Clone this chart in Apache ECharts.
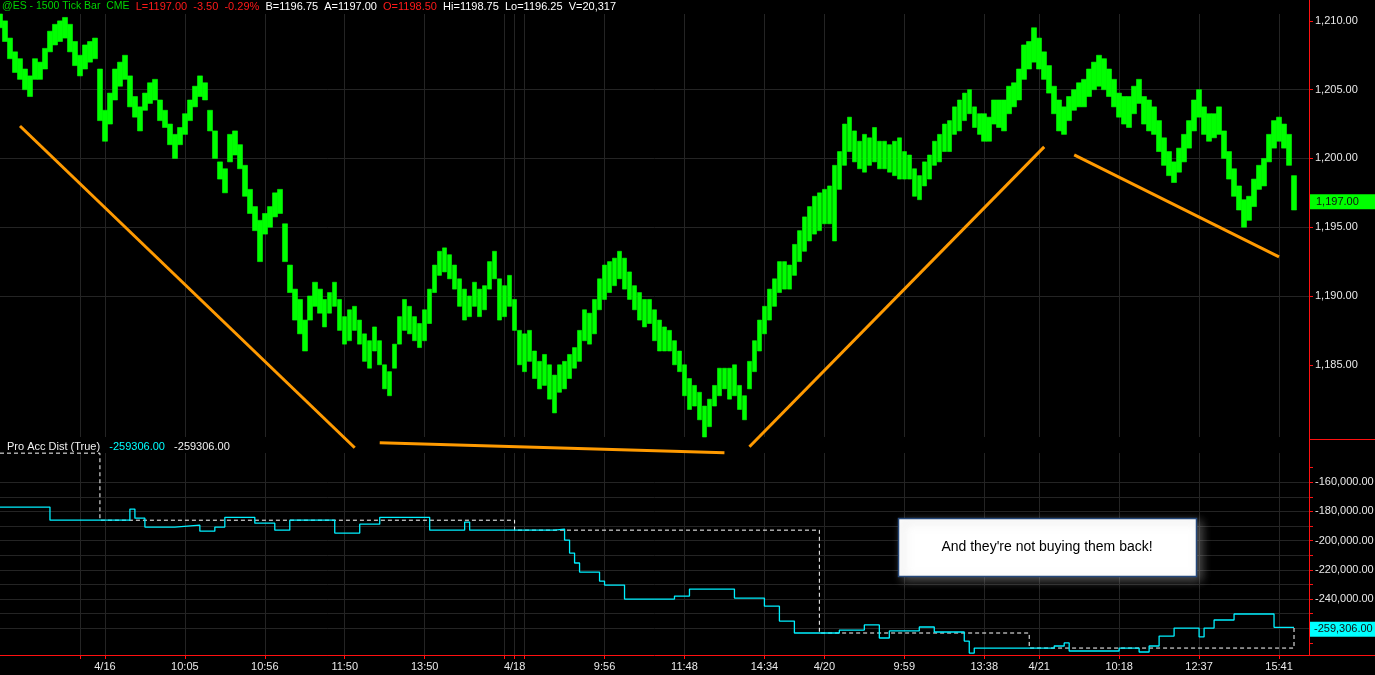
<!DOCTYPE html>
<html>
<head>
<meta charset="utf-8">
<title>@ES - 1500 Tick Bar</title>
<script src="https://cdn.jsdelivr.net/npm/echarts@6/dist/echarts.min.js"></script>
<style>
  html, body { margin: 0; padding: 0; background: #000; }
  #main { width: 1375px; height: 675px; }
</style>
</head>
<body>
<div id="main"></div>
<script>
// 1500 tick bars (one value pair per bar)
var barHigh = [
  1210.5,1210.0,1208.75,1207.75,1207.25,1206.5,1206.0,1207.25,1207.0,1208.0,1209.25,1209.75,1210.0,1210.25,1209.75,1208.5,1207.5,1208.25,1208.5,1208.75,
  1206.5,1203.5,1204.75,1206.5,1207.0,1207.5,1206.0,1204.5,1203.75,1204.75,1205.5,1205.75,1204.25,1203.5,1202.5,1201.75,1202.25,1203.25,1204.25,1205.25,
  1206.0,1205.5,1203.5,1202.0,1199.75,1199.25,1201.75,1202.0,1201.0,1199.5,1197.75,1196.5,1195.5,1196.0,1196.5,1197.5,1197.75,1195.25,1192.25,1190.5,
  1189.75,1188.25,1190.0,1191.0,1190.5,1189.75,1190.25,1191.0,1189.75,1188.5,1189.0,1189.25,1188.25,1187.25,1186.75,1187.75,1186.75,1185.0,1184.5,1186.5,
  1188.5,1189.75,1189.25,1188.5,1188.0,1189.0,1190.5,1192.25,1193.25,1193.5,1193.0,1192.25,1191.25,1190.5,1190.0,1191.0,1190.5,1190.75,1192.5,1193.25,
  1191.25,1190.75,1191.5,1189.75,1187.5,1187.25,1187.5,1186.0,1185.25,1185.75,1185.0,1184.25,1185.0,1185.25,1185.75,1186.25,1187.5,1189.0,1188.75,1189.75,
  1191.25,1192.25,1192.5,1192.75,1193.25,1192.75,1191.75,1190.75,1190.25,1189.75,1189.75,1189.0,1188.25,1187.75,1187.5,1186.75,1186.0,1185.0,1184.0,1183.5,
  1183.0,1182.0,1182.5,1183.5,1184.75,1184.75,1184.75,1185.0,1183.5,1182.75,1185.25,1186.75,1188.25,1189.25,1190.5,1191.25,1192.5,1192.5,1192.25,1193.75,
  1194.75,1195.75,1196.5,1197.25,1197.5,1197.75,1198.0,1199.5,1200.5,1202.5,1203.0,1202.0,1201.25,1201.75,1201.5,1202.25,1201.25,1201.25,1201.0,1201.25,
  1201.5,1200.5,1200.25,1199.25,1198.75,1199.75,1200.25,1201.25,1201.75,1202.5,1202.75,1203.75,1204.25,1204.75,1205.0,1203.75,1203.25,1203.25,1203.0,1204.25,
  1204.25,1204.25,1205.25,1205.5,1206.5,1208.25,1208.5,1209.5,1208.75,1207.75,1206.75,1205.25,1204.25,1203.75,1204.5,1205.0,1205.5,1205.75,1206.5,1207.0,
  1207.5,1207.25,1206.5,1205.75,1204.75,1204.5,1204.5,1205.25,1205.75,1204.5,1204.25,1203.75,1202.75,1201.5,1200.5,1199.75,1200.75,1201.75,1202.75,1204.25,
  1205.0,1203.75,1203.25,1203.25,1203.75,1202.0,1200.5,1199.25,1198.0,1197.0,1197.25,1198.5,1199.5,1200.0,1201.75,1202.75,1203.0,1202.5,1201.75,1198.75
];
var barLow = [
  1209.5,1208.5,1207.25,1206.25,1205.75,1205.0,1204.5,1205.75,1205.75,1206.5,1207.75,1208.25,1208.5,1208.75,1207.75,1206.75,1206.0,1206.5,1207.0,1207.25,
  1202.75,1201.25,1202.5,1204.25,1205.25,1205.75,1203.75,1203.0,1202.0,1203.5,1204.0,1204.25,1202.75,1202.25,1201.0,1200.0,1201.0,1201.75,1202.75,1203.75,
  1204.5,1204.25,1202.0,1200.0,1198.5,1197.5,1199.75,1200.25,1199.25,1197.25,1196.0,1194.75,1192.5,1194.5,1195.0,1195.75,1196.0,1192.5,1190.25,1188.25,
  1187.25,1186.0,1188.25,1189.25,1188.75,1187.75,1188.75,1189.25,1187.5,1186.5,1186.75,1187.5,1186.5,1185.25,1184.75,1186.0,1185.0,1183.25,1182.75,1184.75,
  1186.5,1187.5,1187.25,1186.75,1186.25,1186.75,1188.0,1190.25,1191.5,1191.75,1191.25,1190.5,1189.25,1188.25,1188.5,1189.25,1188.5,1189.0,1190.5,1191.25,
  1188.25,1188.5,1189.25,1187.5,1185.0,1184.5,1185.25,1184.0,1183.25,1183.5,1182.5,1181.5,1183.0,1183.25,1184.0,1184.75,1185.25,1186.75,1186.5,1187.25,
  1189.0,1189.75,1190.25,1190.75,1191.25,1190.5,1189.75,1189.0,1188.25,1187.75,1188.0,1186.75,1186.0,1186.0,1186.0,1185.0,1184.5,1182.75,1181.75,1182.0,
  1181.0,1179.75,1180.5,1182.0,1182.75,1183.25,1182.5,1182.75,1181.75,1181.0,1183.25,1184.5,1186.0,1187.25,1188.25,1189.25,1190.25,1190.5,1190.5,1191.5,
  1192.5,1193.25,1194.0,1194.5,1194.75,1195.25,1195.25,1194.0,1197.75,1199.5,1200.5,1199.75,1199.25,1199.0,1199.5,1199.75,1199.25,1199.25,1199.0,1198.75,
  1198.5,1198.5,1198.5,1197.25,1197.0,1198.0,1198.5,1199.5,1199.75,1200.5,1200.5,1201.75,1202.0,1202.75,1203.25,1202.25,1201.75,1201.25,1201.25,1202.5,
  1202.25,1202.0,1203.25,1203.75,1204.25,1205.75,1206.5,1207.0,1206.5,1205.75,1204.75,1203.25,1202.0,1201.75,1202.75,1203.5,1203.75,1203.75,1204.5,1205.0,
  1205.25,1205.0,1204.5,1203.75,1203.0,1202.5,1202.25,1203.25,1204.0,1202.5,1202.0,1201.75,1200.5,1199.5,1198.75,1198.25,1199.0,1199.75,1200.75,1202.0,
  1203.0,1201.75,1201.25,1201.5,1201.75,1200.0,1198.5,1197.25,1196.25,1195.0,1195.5,1196.5,1197.75,1198.0,1199.75,1200.75,1201.25,1200.75,1199.5,1196.25
];
var lastClose = 1197.00;

// Pro Acc Dist step lines: [bar index, value] at each change
var accDist = [
  [0,-177000],[10,-186000],[26,-178400],[27,-184600],[29,-190700],[35,-189400],[40,-193500],[43,-190700],
  [45,-184000],[51,-188000],[55,-192800],[58,-186000],[67,-194800],[72,-188700],[76,-184000],[86,-192800],
  [93,-187300],[94,-192800],[111,-192100],[113,-199600],[114,-208500],[115,-215300],[116,-221500],[120,-227700],
  [121,-230400],[125,-240000],[135,-237900],[138,-233100],[147,-239300],[153,-244800],[156,-255000],[159,-263200],
  [168,-261200],[173,-257700],[176,-266600],[178,-261800],[184,-259100],[187,-262500],[193,-268700],[194,-276900],
  [195,-273500],[211,-272100],[213,-270000],[214,-275500],[224,-273500],[228,-276200],[230,-272100],[232,-265300],
  [235,-259800],[240,-265900],[241,-259800],[243,-254300],[247,-250200],[255,-259306],[259,-259306]
];
var accDistPrev = [[0,-140100],[20,-186000],[103,-192800],[164,-263200],[206,-273500],[259,-259306]];

// hand drawn trend lines: [bar0, price0, bar1, price1]
var trendLines = [
  [4, 1202.36, 71, 1178.97],
  [76, 1179.33, 145, 1178.61],
  [150, 1179.04, 209, 1200.84],
  [215, 1200.26, 256, 1192.85]
];

var priceTicks = [1185, 1190, 1195, 1200, 1205, 1210];
var accTicks = [-240000, -220000, -200000, -180000, -160000];
var accMinorTicks = [-270000,-260000,-250000,-240000,-230000,-220000,-210000,-200000,-190000,-180000,-170000,-160000,-150000];
var xTickIdx  = [16, 21, 37, 53, 69, 85, 101, 103, 105, 121, 137, 153, 165, 181, 197, 208, 224, 240, 256];
var xTickText = ['', '4/16', '10:05', '10:56', '11:50', '13:50', '', '4/18', '', '9:56', '11:48', '14:34', '4/20', '9:59', '13:38', '4/21', '10:18', '12:37', '15:41'];
var barCount = 263;

var annotation = "And they're not buying them back!";

var font = "'Liberation Sans', Arial, sans-serif";
var gridColor = '#242424';
var axisRed = '#ff1010';
var labelColor = '#e8e8e8';
var hidden = 'rgba(0,0,0,0)';

function fmt2(v) {
  return v.toLocaleString('en-US', { minimumFractionDigits: 2, maximumFractionDigits: 2 });
}
function isTick(i) { return xTickIdx.indexOf(i) >= 0; }

var cats = [];
for (var i = 0; i < barCount; i++) cats.push(String(i));
var candles = barHigh.map(function (h, i) { return [barLow[i], h, barLow[i], h]; });
var accLast = accDist[accDist.length - 1][1];
var prevLast = accDistPrev[accDistPrev.length - 1][1];

var chart = echarts.init(document.getElementById('main'));

var trendSeries = trendLines.map(function (t) {
  return {
    type: 'line', xAxisIndex: 0, yAxisIndex: 0,
    data: [[t[0], t[1]], [t[2], t[3]]],
    showSymbol: false, clip: false, silent: true, z: 5,
    lineStyle: { color: '#ff9a00', width: 3 }
  };
});

var option = {
  backgroundColor: '#000',
  animation: false,
  title: [{
    left: 2, top: 1, padding: 0,
    text: '{g|@ES - 1500 Tick Bar  CME}  {r|L=1197.00  -3.50  -0.29%}  {w|B=1196.75  A=1197.00}  {r|O=1198.50}  {w|Hi=1198.75  Lo=1196.25  V=20,317}',
    textStyle: {
      fontSize: 11, fontWeight: 'normal', fontFamily: font,
      rich: {
        g: { color: '#00d400', fontSize: 10.5, fontFamily: font },
        r: { color: '#ff1a1a', fontSize: 11, fontFamily: font },
        w: { color: '#ffffff', fontSize: 11, fontFamily: font }
      }
    }
  }, {
    left: 7, top: 441, padding: 0,
    text: '{w|Pro Acc Dist (True)}   {c|' + accLast.toFixed(2) + '}   {w|' + prevLast.toFixed(2) + '}',
    textStyle: {
      fontSize: 11, fontWeight: 'normal', fontFamily: font,
      rich: {
        w: { color: '#f0f0f0', fontSize: 11, fontFamily: font },
        c: { color: '#00ffff', fontSize: 11, fontFamily: font }
      }
    }
  }],
  grid: [
    { left: 0, right: 66, top: 14, height: 423, outerBoundsMode: 'none', containLabel: false },
    { left: 0, right: 66, top: 453, bottom: 20, outerBoundsMode: 'none', containLabel: false }
  ],
  xAxis: [{
    type: 'category', gridIndex: 0, data: cats, boundaryGap: false,
    axisLine: { show: false }, axisTick: { show: false }, axisLabel: { show: false },
    splitLine: { show: true, interval: function (i) { return isTick(i); }, lineStyle: { color: gridColor, width: 1 } }
  }, {
    type: 'category', gridIndex: 1, data: cats, boundaryGap: false,
    axisLine: { show: true, lineStyle: { color: axisRed, width: 1 } },
    axisTick: { show: true, inside: false, length: 4, interval: function (i) { return isTick(i); }, lineStyle: { color: axisRed } },
    axisLabel: {
      interval: function (i) { return isTick(i); },
      formatter: function (v, i) { var k = xTickIdx.indexOf(i); return k >= 0 ? xTickText[k] : ''; },
      color: labelColor, fontSize: 11, fontFamily: font, margin: 6
    },
    splitLine: { show: true, interval: function (i) { return isTick(i); }, lineStyle: { color: gridColor, width: 1 } }
  }],
  yAxis: [{
    type: 'value', gridIndex: 0, position: 'right', scale: true,
    min: 1179.75, max: 1210.5, splitNumber: 6,
    axisLine: { show: true, lineStyle: { color: axisRed, width: 1 } },
    axisTick: { show: true, inside: false, length: 4, lineStyle: { color: axisRed }, customValues: priceTicks },
    axisLabel: {
      customValues: priceTicks,
      formatter: function (v) { return priceTicks.indexOf(v) >= 0 ? fmt2(v) : ''; },
      color: labelColor, fontSize: 11, fontFamily: font, margin: 6
    },
    splitLine: { show: true, showMinLine: false, showMaxLine: false, lineStyle: { color: gridColor, width: 1 } }
  }, {
    type: 'value', gridIndex: 1, position: 'right', scale: true,
    min: -278250, max: -140000, splitNumber: 14,
    axisLine: { show: true, lineStyle: { color: axisRed, width: 1 } },
    axisTick: { show: true, inside: false, length: 4, lineStyle: { color: axisRed }, customValues: accMinorTicks },
    axisLabel: {
      customValues: accTicks,
      formatter: function (v) { return accTicks.indexOf(v) >= 0 ? fmt2(v) : ''; },
      color: labelColor, fontSize: 11, fontFamily: font, margin: 6
    },
    splitLine: { show: true, showMinLine: false, showMaxLine: false, lineStyle: { color: gridColor, width: 1 } }
  }],
  series: [{
    type: 'candlestick', name: 'ES', xAxisIndex: 0, yAxisIndex: 0,
    data: candles, barWidth: '100%', clip: false, z: 3,
    itemStyle: { color: '#00ff00', color0: '#00ff00', borderColor: '#00ff00', borderColor0: '#00ff00', borderWidth: 0.6 },
    markLine: {
      silent: true, symbol: ['none', 'none'],
      lineStyle: { color: hidden, width: 1 },
      data: [{ yAxis: lastClose }],
      label: {
        show: true, position: 'end', distance: 1, offset: [0, 2],
        formatter: function (p) { return fmt2(p.value); },
        backgroundColor: '#00ff00', color: '#111', fontSize: 11, fontFamily: font,
        width: 53, padding: [2, 6, 2, 6]
      }
    }
  }, {
    type: 'line', name: 'prev', xAxisIndex: 1, yAxisIndex: 1,
    data: accDistPrev, step: 'end', showSymbol: false, clip: false, z: 2,
    lineStyle: { color: '#ffffff', width: 1, type: [4, 3] }
  }, {
    type: 'line', name: 'Pro Acc Dist', xAxisIndex: 1, yAxisIndex: 1,
    data: accDist, step: 'end', showSymbol: false, z: 3,
    lineStyle: { color: '#00f0ff', width: 1.3 },
    markLine: {
      silent: true, symbol: ['none', 'none'],
      lineStyle: { color: hidden, width: 1 },
      data: [{ yAxis: accLast }],
      label: {
        show: true, position: 'end', distance: 1, offset: [0, 2],
        formatter: function (p) { return fmt2(p.value); },
        backgroundColor: '#00ffff', color: '#111', fontSize: 11, fontFamily: font,
        width: 60, padding: [2, 2, 2, 4]
      }
    }
  }].concat(trendSeries),
  graphic: [
    // red axis pieces outside the two grids
    { type: 'line', silent: true, z: 10, shape: { x1: 1309.5, y1: 0, x2: 1309.5, y2: 655 }, style: { stroke: axisRed, lineWidth: 1 } },
    { type: 'line', silent: true, z: 10, shape: { x1: 1309, y1: 655.5, x2: 1375, y2: 655.5 }, style: { stroke: axisRed, lineWidth: 1 } },
    { type: 'line', silent: true, z: 10, shape: { x1: 1309, y1: 439.5, x2: 1375, y2: 439.5 }, style: { stroke: axisRed, lineWidth: 1 } },
    {
      type: 'rect', silent: true, z: 20,
      shape: { x: 898.5, y: 518.5, width: 298, height: 58 },
      style: { fill: '#ffffff', stroke: '#24477a', lineWidth: 1.5, shadowBlur: 10, shadowColor: 'rgba(150,150,150,0.55)', shadowOffsetX: 4, shadowOffsetY: 3 }
    },
    {
      type: 'text', silent: true, z: 21, x: 1047, y: 547,
      style: { text: annotation, fill: '#000', font: "14px " + font, align: 'center', verticalAlign: 'middle' }
    }
  ]
};

chart.setOption(option);
</script>
</body>
</html>
